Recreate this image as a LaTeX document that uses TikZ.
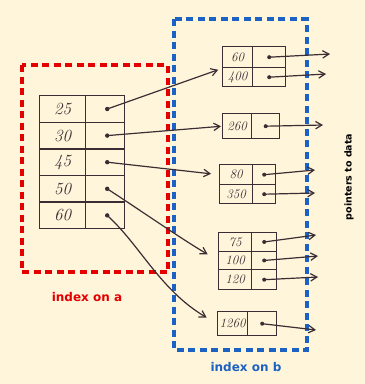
\documentclass[tikz,border=0pt]{standalone}
\usepackage{fontspec}
\usepackage{xcolor}
\usepackage{tikz}
\usetikzlibrary{arrows.meta,calc}
\newfontfamily\labelfont{DejaVu Sans}
\definecolor{idxpaper}{RGB}{255,245,218}
\definecolor{idxink}{RGB}{58,46,52}
\definecolor{idxred}{RGB}{228,0,0}
\definecolor{idxblue}{RGB}{28,98,196}
\tikzset{
  keycell/.style={draw=idxink, line width=1.4pt, anchor=north west, inner sep=0pt,
    text=idxink, font=\itshape\fontsize{13}{13}\selectfont},
  ptrcell/.style={draw=idxink, line width=1.4pt, anchor=north west, inner sep=0pt},
  link/.style={draw=idxink, line width=1.2pt,
    -{Straight Barb[length=2.2mm, width=2.6mm]}},
  groupbox/.style={line width=3.3pt, dash pattern=on 7pt off 4.5pt},
  grouplabel/.style={font=\labelfont\bfseries\fontsize{12}{14}\selectfont},
}

\begin{document}
\begin{tikzpicture}[x=1pt, y=-1pt]
  \fill[idxpaper] (0,0) rectangle (365,384);
  \useasboundingbox (0,0) rectangle (365,384);

  % dashed groups
  \draw[groupbox, idxred] (22,65) rectangle (168,272);
  \draw[groupbox, idxblue] (174,19) rectangle (307,350);

  % index on a
  \foreach \key [count=\row] in {25,30,45,50,60} {
    \node[keycell, minimum width=46pt, minimum height=26.6pt,
      font=\itshape\fontsize{17}{17}\selectfont]
      (ka\row) at (39,{95+26.6*(\row-1)}) {\key};
    \node[ptrcell, minimum width=39pt, minimum height=26.6pt]
      (pa\row) at (85,{95+26.6*(\row-1)}) {};
    \coordinate (dota\row) at ($(pa\row.center)+(2,0)$);
    \fill[idxink] (dota\row) circle (2.2);
  }

  % index on b
  \foreach \nm/\x/\y/\kw/\pw/\h/\key in {
      b1r1/222/46/30/33/21/60, b1r2/222/67/30/33/19/400,
      b2r1/222/113/29/28/25/260,
      b3r1/219/164/33/23/20/80, b3r2/219/184/33/23/19/350,
      b4r1/218/232/33/25/18.5/75, b4r2/218/250.5/33/25/18.5/100,
      b4r3/218/269/33/25/20/120,
      b5r1/217/311/30/29/24/1260} {
    \node[keycell, minimum width=\kw pt, minimum height=\h pt]
      (k\nm) at (\x,\y) {\key};
    \node[ptrcell, minimum width=\pw pt, minimum height=\h pt]
      (p\nm) at (\x+\kw,\y) {};
  }

  % pointers to data
  \foreach \nm/\ex/\ey [count=\i] in {b1r1/330/54, b1r2/326/74, b2r1/323/125,
      b3r1/315/170, b3r2/315/193, b4r1/316/235, b4r2/318/256,
      b4r3/318/277, b5r1/316/330} {
    \coordinate (data\i) at (\ex,\ey);
    \fill[idxink] (p\nm.center) circle (2.0);
    \draw[link] (p\nm.center) -- (data\i);
  }

  % links from a to b
  \draw[link, shorten >=4pt] (dota1) -- (kb1r1.south west);
  \draw[link, shorten >=1pt] (dota2) -- (kb2r1.west);
  \draw[link, shorten >=8pt] (dota3) -- (kb3r1.west);
  \draw[link, shorten >=12pt] (dota4) .. controls (140,210) and (180,238)
    .. (kb4r2.west);
  \draw[link, shorten >=12pt] (dota5) .. controls (140,245) and (160,290)
    .. (kb5r1.west);

  \node[grouplabel, text=idxred] (labela) at (87,297) {index on a};
  \node[grouplabel, text=idxblue] (labelb) at (246,367) {index on b};
  \node[grouplabel, font=\labelfont\bfseries\fontsize{9.5}{11}\selectfont,
    rotate=90] (labeldata) at (349,177) {pointers to data};
\end{tikzpicture}
\end{document}
